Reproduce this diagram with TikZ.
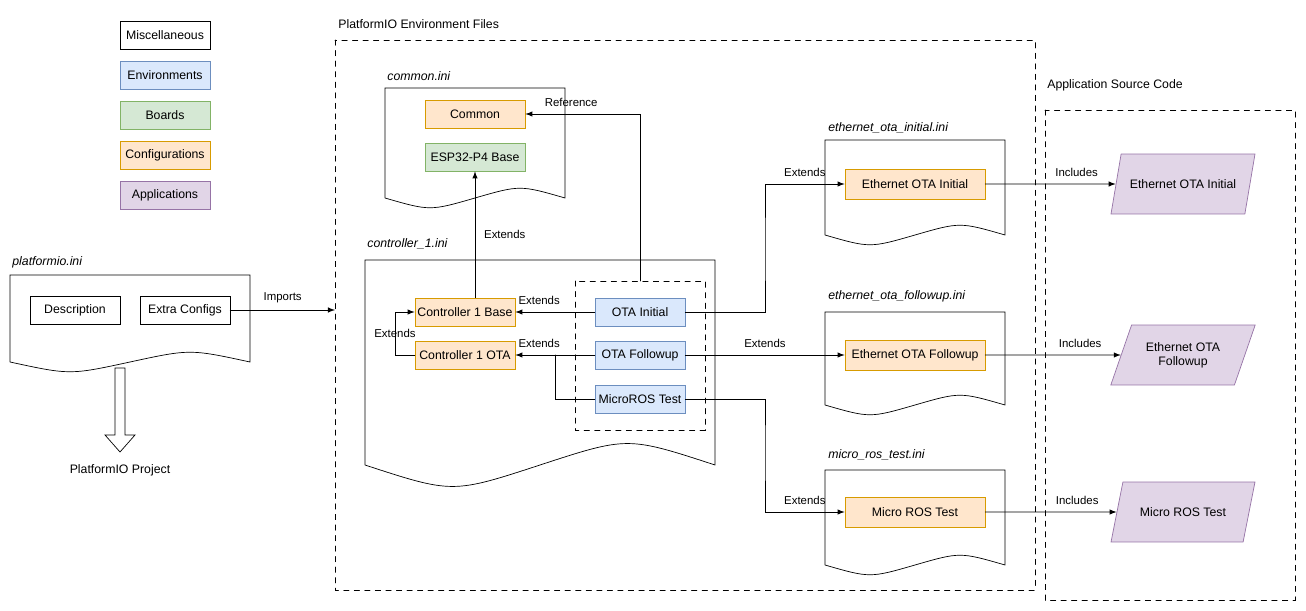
\documentclass[tikz,border=0pt]{standalone}
\usepackage{fontspec}
\setmainfont{Liberation Sans}
\usetikzlibrary{arrows,positioning,shapes.geometric}
\definecolor{envfill}{HTML}{DAE8FC}\definecolor{envdraw}{HTML}{6C8EBF}
\definecolor{brdfill}{HTML}{D5E8D4}\definecolor{brddraw}{HTML}{82B366}
\definecolor{cfgfill}{HTML}{FFE6CC}\definecolor{cfgdraw}{HTML}{D79B00}
\definecolor{appfill}{HTML}{E1D5E7}\definecolor{appdraw}{HTML}{9673A6}
\tikzset{>=latex,
  box/.style={draw,minimum width=1.8cm,minimum height=0.56cm,inner sep=1pt,font=\fontsize{7}{8}\selectfont},
  misc/.style={box},
  env/.style={box,fill=envfill,draw=envdraw},
  brd/.style={box,fill=brdfill,draw=brddraw},
  cfg/.style={box,fill=cfgfill,draw=cfgdraw},
  app/.style={trapezium,trapezium left angle=65,trapezium right angle=115,trapezium stretches=true,
    minimum width=2.9cm,minimum height=1.2cm,draw=appdraw,fill=appfill,align=center,font=\fontsize{7}{8}\selectfont},
  lbl/.style={font=\fontsize{6.5}{7}\selectfont,inner sep=1pt},
  file/.style={font=\itshape\fontsize{7}{8}\selectfont,anchor=west,inner sep=0pt},
  group/.style={draw,dashed}}
% document shape: left, top, right, bottom, wave
\newcommand{\docpath}[5]{%
  \draw (#1,#4) -- (#1,#2) -- (#3,#2) -- (#3,#4)
    .. controls ({#1+0.75*(#3-#1)},{#4-1.3*#5}) .. ({#1+0.5*(#3-#1)},#4)
    .. controls ({#1+0.25*(#3-#1)},{#4+1.3*#5}) .. (#1,#4);}

\begin{document}
\begin{tikzpicture}[x=0.02cm,y=-0.02cm,line cap=round]
  \useasboundingbox (0,0) rectangle (1306,611);

  % legend
  \node[misc] (legmisc) at (165,35) {Miscellaneous};
  \node[env] (legenv) at (165,75) {Environments};
  \node[brd] (legbrd) at (165,115) {Boards};
  \node[cfg] (legcfg) at (165,155) {Configurations};
  \node[app,trapezium left angle=90,trapezium right angle=90,minimum width=1.8cm,minimum height=0.56cm] (legapp) at (165,195) {Applications};

  % groups
  \draw[group] (335,40) rectangle (1035,590);
  \node[anchor=west,inner sep=0pt,font=\fontsize{7}{8}\selectfont] (envlbl) at (338,24) {PlatformIO Environment Files};
  \draw[group] (1045,110) rectangle (1295,600);
  \node[anchor=west,inner sep=0pt,font=\fontsize{7}{8}\selectfont] (srclbl) at (1047,85) {Application Source Code};

  % files
  \docpath{10}{275}{250}{362}{10}
  \node[file] (pioini) at (12,262) {platformio.ini};
  \docpath{385}{88}{565}{198}{10}
  \node[file] (commonini) at (387,76) {common.ini};
  \docpath{365}{260}{715}{465}{22}
  \node[file] (ctrlini) at (367,244) {controller\_1.ini};
  \docpath{825}{140}{1005}{235}{10}
  \node[file] (ethiniini) at (828,128) {ethernet\_ota\_initial.ini};
  \docpath{825}{312}{1005}{405}{10}
  \node[file] (ethfolini) at (828,296) {ethernet\_ota\_followup.ini};
  \docpath{825}{470}{1005}{565}{10}
  \node[file] (microini) at (828,455) {micro\_ros\_test.ini};
  \draw[group] (575,281) rectangle (705,430);
  \coordinate (envgrp) at (640,281);

  % nodes
  \node[misc] (desc) at (75,310) {Description};
  \node[misc] (extra) at (185,310) {Extra Configs};
  \node[cfg,minimum width=2cm] (common) at (475,114) {Common};
  \node[brd,minimum width=2cm] (esp) at (475,157) {ESP32-P4 Base};
  \node[cfg,minimum width=2cm] (ctrlbase) at (465,312) {Controller 1 Base};
  \node[cfg,minimum width=2cm] (ctrlota) at (465,355) {Controller 1 OTA};
  \node[env] (otaini) at (640,312) {OTA Initial};
  \node[env] (otafol) at (640,355) {OTA Followup};
  \node[env] (micro) at (640,399) {MicroROS Test};
  \node[cfg,minimum width=2.8cm,minimum height=0.6cm] (ethini) at (915,184) {Ethernet OTA Initial};
  \node[cfg,minimum width=2.8cm,minimum height=0.6cm] (ethfol) at (915,355) {Ethernet OTA Followup};
  \node[cfg,minimum width=2.8cm,minimum height=0.6cm] (microcfg) at (915,512) {Micro ROS Test};
  \node[app] (appini) at (1183,184) {Ethernet OTA Initial};
  \node[app] (appfol) at (1183,355) {Ethernet OTA\\Followup};
  \node[app] (appmicro) at (1183,512) {Micro ROS Test};
  \node[font=\fontsize{7}{8}\selectfont] (project) at (120,470) {PlatformIO Project};

  % hollow arrow
  \draw[fill=white] (115,368) -- (125,368) -- (125,435) -- (135,435) -- (120,452)
    -- (105,435) -- (115,435) -- cycle;

  % connectors
  \draw[->] (extra) -- node[lbl,above=3pt] {Imports} (335,310);
  \draw[->] (ctrlbase.north -| esp) -- node[lbl,right=4pt] {Extends} (esp);
  \draw[->] (envgrp) |- node[lbl,above=3pt,pos=0.8] {Reference} (common);
  \draw[->] (otaini) -- node[lbl,above=3pt,pos=0.7] {Extends} (ctrlbase);
  \draw[->] (otafol) -- node[lbl,above=3pt,pos=0.7] {Extends} (ctrlota);
  \draw (micro) -| (555,355);
  \draw[->] (ctrlota.west) -- (395,355) |- node[lbl,pos=0.25] {Extends} (ctrlbase.west);
  \draw[->] (otaini) -| (765,250) |- node[lbl,above=3pt,pos=0.75] {Extends} (ethini);
  \draw[->] (otafol) -- node[lbl,above=3pt] {Extends} (ethfol);
  \draw[->] (micro) -| (765,450) |- node[lbl,above=3pt,pos=0.75] {Extends} (microcfg);
  \draw[->] (ethini) -- node[lbl,above=3pt,pos=0.7] {Includes} (appini);
  \draw[->] (ethfol) -- node[lbl,above=3pt,pos=0.7] {Includes} (appfol);
  \draw[->] (microcfg) -- node[lbl,above=3pt,pos=0.7] {Includes} (appmicro);
\end{tikzpicture}
\end{document}
